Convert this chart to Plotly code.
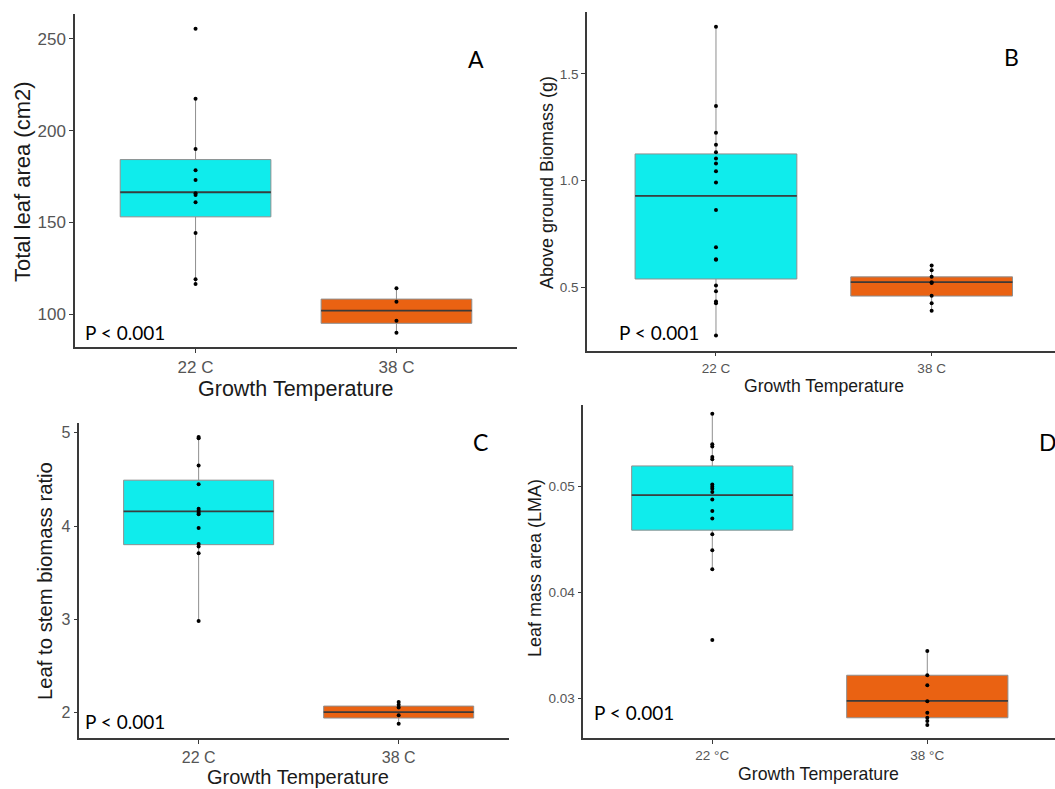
import plotly.graph_objects as go

W, H = 1055, 789

categories = ["22 C", "38 C"]
categories_d = ["22 °C", "38 °C"]

# Panel A: Total leaf area (cm2)
a_22 = [255.6, 217.4, 190.1, 178.5, 173.2, 166.0, 165.0, 161.1, 144.3, 119.1, 116.5]
a_38 = [114.2, 106.9, 96.5, 90.0]
a_q1 = [153.1, 95.1]
a_med = [166.5, 102.0]
a_q3 = [184.3, 108.3]
a_lo = [116.5, 90.0]
a_hi = [217.4, 114.2]

# Panel B: Above ground Biomass (g)
b_22 = [1.721, 1.350, 1.224, 1.168, 1.133, 1.103, 1.080, 1.044, 0.991, 0.862,
        0.688, 0.632, 0.629, 0.509, 0.481, 0.433, 0.425, 0.274]
b_38 = [0.602, 0.580, 0.549, 0.524, 0.520, 0.461, 0.425, 0.390]
b_q1 = [0.539, 0.459]
b_med = [0.928, 0.524]
b_q3 = [1.125, 0.549]
b_lo = [0.274, 0.390]
b_hi = [1.721, 0.602]

# Panel C: Leaf to stem biomass ratio
c_22 = [4.954, 4.940, 4.648, 4.448, 4.185, 4.164, 4.142, 4.125, 3.979, 3.808, 3.780, 3.708, 2.982]
c_38 = [2.114, 2.085, 2.057, 1.972, 1.883]
c_q1 = [3.800, 1.943]
c_med = [4.157, 2.007]
c_q3 = [4.491, 2.071]
c_lo = [2.982, 1.883]
c_hi = [4.954, 2.114]

# Panel D: Leaf mass area (LMA)
d_22 = [0.0569, 0.0540, 0.0538, 0.0528, 0.0526, 0.0502, 0.0500, 0.0498, 0.0495,
        0.0488, 0.0477, 0.0470, 0.0455, 0.0440, 0.0422, 0.0355]
d_38 = [0.03446, 0.03218, 0.03123, 0.02972, 0.02864, 0.02816, 0.02785, 0.02747]
d_q1 = [0.04589, 0.02816]
d_med = [0.04921, 0.02975]
d_q3 = [0.05196, 0.03218]
d_lo = [0.0422, 0.02747]
d_hi = [0.0569, 0.03446]

FILLS = ["#0FECEC", "#EA6212"]
TICK_FONT = "Liberation Sans"

panels = [
    dict(cats=categories, pts=[a_22, a_38], q1=a_q1, med=a_med, q3=a_q3, lo=a_lo, hi=a_hi,
         px=(75, 517), py=(14, 347), xr=[-0.6, 1.6], yr=[82.2, 263.6],
         tv=[100, 150, 200, 250], tt=["100", "150", "200", "250"], tfs=17,
         ytitle="Total leaf area (cm2)", ytpos=(22, 182), ytfs=22,
         xtitle="Growth Temperature", xtpos=(296, 389), xtfs=21.5,
         p=(83, 332), letter="A", lpos=(476, 59)),
    dict(cats=categories, pts=[b_22, b_38], q1=b_q1, med=b_med, q3=b_q3, lo=b_lo, hi=b_hi,
         px=(587, 1055), py=(12, 350.7), xr=[-0.598, 1.572], yr=[0.203, 1.79],
         tv=[0.5, 1.0, 1.5], tt=["0.5", "1.0", "1.5"], tfs=13.5,
         ytitle="Above ground Biomass (g)", ytpos=(547, 183), ytfs=18,
         xtitle="Growth Temperature", xtpos=(824, 386), xtfs=17.6,
         p=(617, 332), letter="B", lpos=(1011, 57)),
    dict(cats=categories, pts=[c_22, c_38], q1=c_q1, med=c_med, q3=c_q3, lo=c_lo, hi=c_hi,
         px=(79.3, 509.3), py=(423.3, 738.3), xr=[-0.5965, 1.553], yr=[1.726, 5.1],
         tv=[2, 3, 4, 5], tt=["2", "3", "4", "5"], tfs=16,
         ytitle="Leaf to stem biomass ratio", ytpos=(45, 581), ytfs=20.3,
         xtitle="Growth Temperature", xtpos=(298, 777), xtfs=20,
         p=(83, 721), letter="C", lpos=(480, 442)),
    dict(cats=categories_d, pts=[d_22, d_38], q1=d_q1, med=d_med, q3=d_q3, lo=d_lo, hi=d_hi,
         px=(583.3, 1055), py=(405, 738.3), xr=[-0.6, 1.594], yr=[0.02622, 0.05772],
         tv=[0.03, 0.04, 0.05], tt=["0.03", "0.04", "0.05"], tfs=13.5,
         ytitle="Leaf mass area (LMA)", ytpos=(535, 568), ytfs=18,
         xtitle="Growth Temperature", xtpos=(818, 774), xtfs=17.7,
         p=(592, 712), letter="D", lpos=(1037, 442)),
]

fig = go.Figure()
layout = dict(width=W, height=H, margin=dict(l=0, r=0, t=0, b=0),
              paper_bgcolor="white", plot_bgcolor="white", showlegend=False,
              boxmode="overlay", annotations=[])

for i, pn in enumerate(panels, start=1):
    xa = "x" if i == 1 else f"x{i}"
    ya = "y" if i == 1 else f"y{i}"
    for j, cat in enumerate(pn["cats"]):
        fig.add_trace(go.Box(
            x=[cat], q1=[pn["q1"][j]], median=[pn["med"][j]], q3=[pn["q3"][j]],
            lowerfence=[pn["lo"][j]], upperfence=[pn["hi"][j]],
            fillcolor=FILLS[j], line=dict(color="#8f8f8f", width=1),
            whiskerwidth=0, width=0.75, boxpoints=False, hoverinfo="skip",
            xaxis=xa, yaxis=ya))
        # median line drawn as a degenerate box at the median value
        fig.add_trace(go.Box(
            x=[cat], q1=[pn["med"][j]], median=[pn["med"][j]], q3=[pn["med"][j]],
            lowerfence=[pn["med"][j]], upperfence=[pn["med"][j]],
            fillcolor="rgba(0,0,0,0)", line=dict(color="rgba(45,45,45,0.85)", width=1.8),
            whiskerwidth=0, width=0.75, boxpoints=False, hoverinfo="skip",
            xaxis=xa, yaxis=ya))
        fig.add_trace(go.Scatter(
            x=[cat] * len(pn["pts"][j]), y=pn["pts"][j], mode="markers",
            marker=dict(color="black", size=4), hoverinfo="skip",
            xaxis=xa, yaxis=ya))

    x0, x1 = pn["px"]
    y0, y1 = pn["py"]
    axis_common = dict(showline=True, linecolor="#3a3a3a", linewidth=1.5,
                       ticks="outside", ticklen=4, tickcolor="#3a3a3a", tickwidth=1,
                       showgrid=False, zeroline=False, fixedrange=True)
    layout["xaxis" if i == 1 else f"xaxis{i}"] = dict(
        axis_common, type="category", categoryorder="array", categoryarray=pn["cats"],
        domain=[x0 / W, min(x1 / W, 1)], range=pn["xr"], anchor=ya,
        tickfont=dict(family=TICK_FONT, size=pn["tfs"], color="#555555"))
    layout["yaxis" if i == 1 else f"yaxis{i}"] = dict(
        axis_common, domain=[1 - y1 / H, 1 - y0 / H], range=pn["yr"], anchor=xa,
        tickvals=pn["tv"], ticktext=pn["tt"],
        tickfont=dict(family=TICK_FONT, size=pn["tfs"], color="#555555"))

    ann = layout["annotations"]
    ann.append(dict(xref="paper", yref="paper", x=pn["ytpos"][0] / W, y=1 - pn["ytpos"][1] / H,
                    text=pn["ytitle"], textangle=-90, showarrow=False,
                    xanchor="center", yanchor="middle",
                    font=dict(family=TICK_FONT, size=pn["ytfs"], color="#1a1a1a")))
    ann.append(dict(xref="paper", yref="paper", x=pn["xtpos"][0] / W, y=1 - pn["xtpos"][1] / H,
                    text=pn["xtitle"], showarrow=False, xanchor="center", yanchor="middle",
                    font=dict(family=TICK_FONT, size=pn["xtfs"], color="#1a1a1a")))
    ann.append(dict(xref="paper", yref="paper", x=pn["p"][0] / W, y=1 - pn["p"][1] / H,
                    text="P < 0.001", showarrow=False, xanchor="left", yanchor="middle",
                    font=dict(family="Lato", size=19, color="black")))
    ann.append(dict(xref="paper", yref="paper", x=pn["lpos"][0] / W, y=1 - pn["lpos"][1] / H,
                    text=pn["letter"], showarrow=False,
                    xanchor="left" if pn["letter"] == "D" else "center", yanchor="middle",
                    font=dict(family="Lato", size=23, color="black")))

fig.update_layout(**layout)
fig.write_html("out.html")
